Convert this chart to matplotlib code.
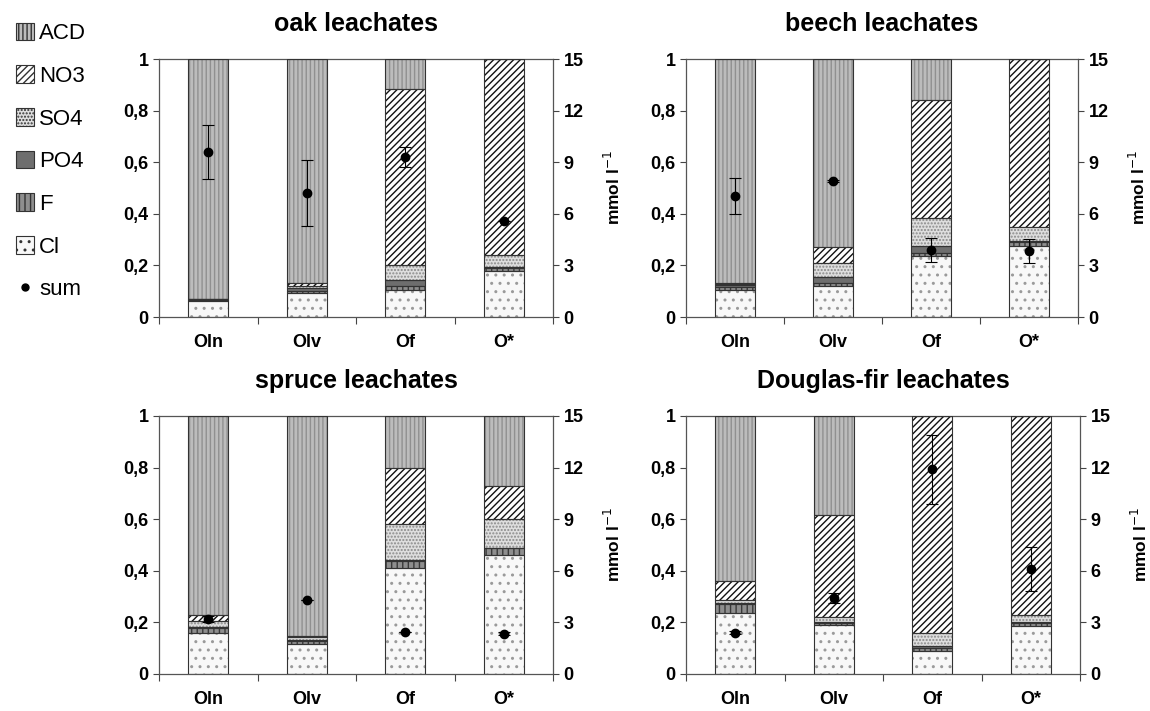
import numpy as np
import matplotlib
matplotlib.use('Agg')
import matplotlib.pyplot as plt
from matplotlib.patches import Patch
from matplotlib.lines import Line2D

plt.rcParams['font.family'] = ['Liberation Sans', 'DejaVu Sans']
plt.rcParams['hatch.linewidth'] = 1.0

horizons = ['Oln', 'Olv', 'Of', 'O*']
forests = ['oak leachates', 'beech leachates', 'spruce leachates', 'Douglas-fir leachates']

# anteile (0..1), je zeile ein bestand: oak, beech, spruce, douglas
cl = [[0.062, 0.093, 0.105, 0.180],
      [0.105, 0.120, 0.235, 0.275],
      [0.160, 0.115, 0.410, 0.460],
      [0.235, 0.190, 0.090, 0.185]]
f_ = [[0.004, 0.008, 0.015, 0.008],
      [0.010, 0.010, 0.015, 0.015],
      [0.018, 0.013, 0.028, 0.028],
      [0.035, 0.008, 0.010, 0.012]]
po4 = [[0.005, 0.010, 0.025, 0.004],
       [0.008, 0.025, 0.025, 0.005],
       [0.004, 0.004, 0.004, 0.002],
       [0.004, 0.004, 0.008, 0.004]]
so4 = [[0.000, 0.008, 0.055, 0.048],
       [0.004, 0.055, 0.110, 0.055],
       [0.025, 0.010, 0.138, 0.110],
       [0.011, 0.018, 0.052, 0.029]]
no3 = [[0.000, 0.012, 0.685, 0.760],
       [0.003, 0.060, 0.455, 0.650],
       [0.020, 0.006, 0.220, 0.130],
       [0.075, 0.395, 0.840, 0.770]]
acd = [[0.929, 0.869, 0.115, 0.000],
       [0.870, 0.730, 0.160, 0.000],
       [0.773, 0.852, 0.200, 0.270],
       [0.640, 0.385, 0.000, 0.000]]

# summe in mmol/l mit standardabweichung
total = [[9.6, 7.2, 9.3, 5.6],
         [7.05, 7.9, 3.9, 3.85],
         [3.2, 4.3, 2.45, 2.35],
         [2.4, 4.4, 11.9, 6.1]]
total_sd = [[1.55, 1.9, 0.6, 0.0],
            [1.05, 0.08, 0.72, 0.7],
            [0.2, 0.0, 0.0, 0.08],
            [0.1, 0.3, 2.0, 1.3]]

# name, data, facecolor, hatch, hatchcolor  (von unten nach oben)
layers = [('Cl', cl, '#f8f8f8', '..', '#9a9a9a'),
          ('F', f_, '#8e8e8e', '|||', '#3a3a3a'),
          ('PO4', po4, '#6e6e6e', None, '#6e6e6e'),
          ('SO4', so4, '#dedede', '.....', '#8a8a8a'),
          ('NO3', no3, 'white', '/////', '#111111'),
          ('ACD', acd, '#bcbcbc', '||||', '#909090')]

fig = plt.figure(figsize=(11.5, 7.11), dpi=100)
W, H = 1150, 711
boxes = [(159, 59, 553, 317), (686, 59, 1078, 317),
         (159, 416, 553, 674), (686, 416, 1080, 674)]

x = np.arange(4) + 0.5
bw = 0.41
tfont = dict(fontsize=13, fontweight='bold')

for k in range(4):
    l, t, r, b = boxes[k]
    ax = fig.add_axes([l / W, 1 - b / H, (r - l) / W, (b - t) / H])
    bottom = np.zeros(4)
    for name, data, fc, hatch, hc in layers:
        vals = np.array(data[k])
        ax.bar(x, vals, bw, bottom=bottom, color=fc, hatch=hatch,
               edgecolor=hc, linewidth=0, zorder=2)
        ax.bar(x, vals, bw, bottom=bottom, fill=False, edgecolor='#333333',
               linewidth=0.8, zorder=3)
        bottom += vals
    ax.set_xlim(0, 4)
    ax.set_ylim(0, 1)
    ax.set_yticks(np.arange(0, 1.01, 0.2))
    ax.set_yticklabels(['0', '0,2', '0,4', '0,6', '0,8', '1'], **tfont)
    ax.set_xticks(np.arange(5))
    ax.set_xticklabels([])
    ax.set_xticks(x, minor=True)
    ax.set_xticklabels(horizons, minor=True, **tfont)
    ax.tick_params(axis='x', which='minor', length=0, pad=12)
    ax.tick_params(axis='y', direction='out', length=4, width=0.8, color='#444444')
    ax.tick_params(axis='x', which='major', direction='out', length=5, width=0.8, color='#444444')
    for s in ['top', 'left', 'right', 'bottom']:
        ax.spines[s].set_color('#555555')
        ax.spines[s].set_linewidth(0.9)
    ax.set_title(forests[k], fontsize=18, fontweight='bold', pad=20)

    ax2 = ax.twinx()
    ax2.set_ylim(0, 15)
    ax2.set_yticks(np.arange(0, 16, 3))
    ax2.set_yticklabels([str(v) for v in range(0, 16, 3)], **tfont)
    ax2.tick_params(axis='y', direction='out', length=4, width=0.8, color='#444444')
    for s in ['top', 'left', 'right', 'bottom']:
        ax2.spines[s].set_visible(False)
    ax2.set_ylabel('mmol l$^{-1}$', fontsize=12.5, fontweight='bold', labelpad=14)
    ax2.errorbar(x, total[k], yerr=total_sd[k], fmt='o', color='black',
                 markersize=6, elinewidth=0.8, capsize=4, capthick=0.8, zorder=5)

handles = [Patch(facecolor=fc, hatch=hatch, edgecolor='#333333', linewidth=0.8)
           for name, data, fc, hatch, hc in layers][::-1]
labels = [name for name, *_ in layers][::-1]
handles.append(Line2D([], [], marker='o', color='black', linestyle='none', markersize=5))
labels.append('sum')
fig.legend(handles, labels, loc='upper left', bbox_to_anchor=(0.0, 0.99),
           frameon=False, fontsize=16, handlelength=0.85, handleheight=0.85,
           handletextpad=0.2, labelspacing=0.95, borderpad=0.2)

fig.savefig('out.png', dpi=100)
